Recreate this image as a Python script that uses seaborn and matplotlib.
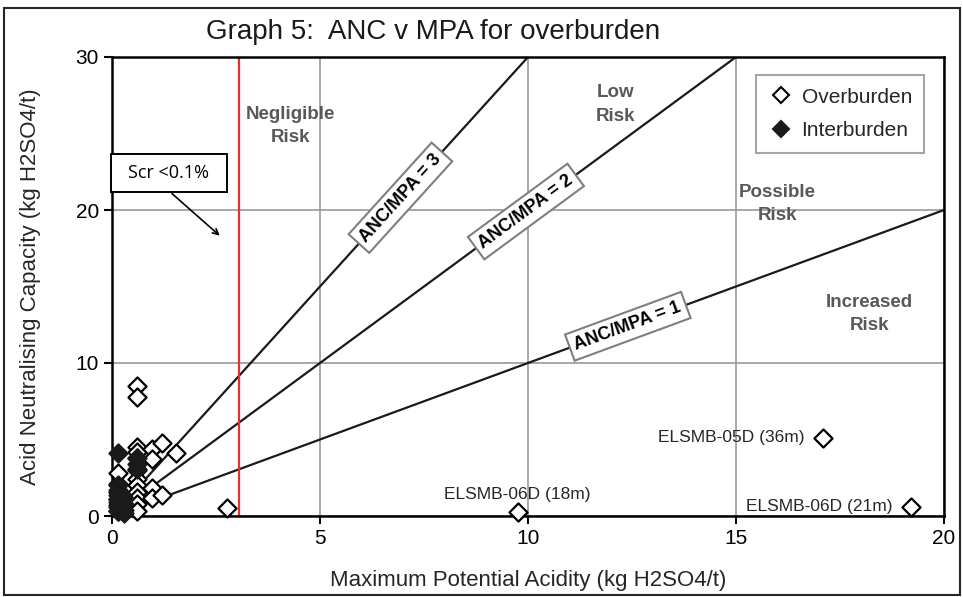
import matplotlib
matplotlib.use("Agg")
import matplotlib.pyplot as plt
import seaborn as sns
import pandas as pd
import numpy as np
from matplotlib.lines import Line2D
from matplotlib.patches import Rectangle

# ---- data ----
ob_x = [0.15, 0.15, 0.15, 0.15, 0.15, 0.15,
        0.6, 0.6, 0.6, 0.6, 0.6, 0.6, 0.6, 0.6, 0.6, 0.6, 0.6, 0.6,
        0.95, 0.95, 0.95, 0.95, 1.2, 1.2, 1.55,
        2.76, 9.75, 17.1, 19.2]
ob_y = [0.3, 0.7, 1.1, 1.6, 2.1, 2.8,
        8.5, 7.8, 4.5, 4.2, 3.8, 3.0, 2.4, 2.0, 1.6, 1.2, 0.8, 0.3,
        4.4, 3.7, 1.8, 1.2, 4.8, 1.4, 4.1,
        0.5, 0.27, 5.1, 0.6]
ib_x = [0.15, 0.15, 0.15, 0.15, 0.15, 0.15, 0.15, 0.15,
        0.3, 0.3, 0.3, 0.3, 0.6, 0.6, 0.6]
ib_y = [4.1, 2.0, 1.7, 1.4, 1.1, 0.9, 0.6, 0.3,
        1.2, 0.8, 0.4, 0.2, 3.8, 3.4, 3.1]

ratios = [1, 2, 3]
ratio_labels = ["ANC/MPA = 1", "ANC/MPA = 2", "ANC/MPA = 3"]
ratio_label_y = [12.4, 19.9, 20.8]
scr_limit = 3.05

region_labels = ["Negligible\nRisk", "Low\nRisk", "Possible\nRisk", "Increased\nRisk"]
region_x = [4.3, 12.1, 16.0, 18.2]
region_y = [25.5, 26.9, 20.4, 13.2]

sample_names = ["ELSMB-06D (18m)", "ELSMB-05D (36m)", "ELSMB-06D (21m)"]
sample_x = [9.75, 17.1, 19.2]
sample_y = [0.27, 5.1, 0.6]

xticks = [0, 5, 10, 15, 20]
yticks = [0, 10, 20, 30]

# ---- figure ----
sns.set_style("white")
plt.rcParams['font.family'] = ['Liberation Sans', 'DejaVu Sans']

W, H = 963, 597
fig = plt.figure(figsize=(W / 100, H / 100), dpi=100)
L, R, T, B = 112, 944, 57, 516
ax = fig.add_axes([L / W, 1 - B / H, (R - L) / W, (B - T) / H])

ax.set_xlim(0, 20)
ax.set_ylim(0, 30)
ax.set_xticks(xticks)
ax.set_yticks(yticks)
ax.tick_params(axis='both', direction='out', length=6, width=1.5, labelsize=15,
               colors='black', bottom=True, left=True)
ax.grid(True, color='#a0a0a0', linewidth=1.3, zorder=0)
ax.set_axisbelow(True)
for s in ax.spines.values():
    s.set_color('black')
    s.set_linewidth(1.8)

# ratio lines
for k in ratios:
    xs = np.array([0, 20])
    ax.plot(xs, k * xs, color='#1a1a1a', linewidth=1.6, zorder=2)

ax.axvline(scr_limit, color='#e8302a', linewidth=1.6, zorder=2)

ob = pd.DataFrame({"x": ob_x, "y": ob_y})
ib = pd.DataFrame({"x": ib_x, "y": ib_y})
sns.scatterplot(data=ob, x="x", y="y", marker='D', s=85, color='white',
                edgecolor='black', linewidth=1.6, ax=ax, zorder=4, clip_on=False)
sns.scatterplot(data=ib, x="x", y="y", marker='D', s=85, color='#1a1a1a',
                edgecolor='#1a1a1a', linewidth=1.6, ax=ax, zorder=5, clip_on=False)

ax.set_xlabel("Maximum Potential Acidity (kg H2SO4/t)", fontsize=16, color='#262626')
ax.set_ylabel("Acid Neutralising Capacity (kg H2SO4/t)", fontsize=16, color='#262626')
ax.xaxis.set_label_coords(0.5, -0.118)
ax.yaxis.set_label_coords(-0.085, 0.5)

# ratio labels, rotated along lines
ax_w = R - L
ax_h = B - T
for k, lab, yy in zip(ratios, ratio_labels, ratio_label_y):
    ang = np.degrees(np.arctan(k * (ax_h / 30) / (ax_w / 20)))
    ax.text(yy / k, yy, lab, rotation=ang, rotation_mode='anchor',
            ha='center', va='center', fontsize=13, fontweight='bold', color='black',
            bbox=dict(boxstyle='square,pad=0.3', facecolor='white',
                      edgecolor='#7f7f7f', linewidth=1.5), zorder=6)

for lab, xx, yy in zip(region_labels, region_x, region_y):
    ax.text(xx, yy, lab, ha='center', va='center', fontsize=13.5,
            fontweight='bold', color='#595959', linespacing=1.5, zorder=6)

# sample labels
ax.text(sample_x[0], sample_y[0] + 1.15, sample_names[0], ha='center', va='center',
        fontsize=12.5, color='#262626', zorder=6)
ax.text(sample_x[1] - 0.45, sample_y[1], sample_names[1], ha='right', va='center',
        fontsize=12.5, color='#262626', zorder=6)
ax.text(sample_x[2] - 0.45, sample_y[2], sample_names[2], ha='right', va='center',
        fontsize=12.5, color='#262626', zorder=6)

# Scr annotation
ax.annotate("", xy=(2.64, 18.2), xytext=(1.39, 21.2),
            arrowprops=dict(arrowstyle='->', color='black', lw=1.2), zorder=6)
ax.add_patch(Rectangle((-0.02, 21.2), 2.78, 2.45, facecolor='white', edgecolor='black',
                       linewidth=1.4, zorder=7, clip_on=False))
ax.text(1.37, 22.42, "Scr <0.1%", ha='center', va='center', fontsize=13,
        family=['Open Sans', 'DejaVu Sans'], color='black', zorder=8, clip_on=False)

# legend
handles = [Line2D([], [], marker='D', linestyle='none', markersize=8.5,
                  markerfacecolor='white', markeredgecolor='black', markeredgewidth=1.5),
           Line2D([], [], marker='D', linestyle='none', markersize=8.5,
                  markerfacecolor='#1a1a1a', markeredgecolor='#1a1a1a', markeredgewidth=1.5)]
leg = ax.legend(handles, ["Overburden", "Interburden"], loc='upper right',
                bbox_to_anchor=(0.989, 0.983), fontsize=15, frameon=True,
                fancybox=False, edgecolor='#a6a6a6', framealpha=1,
                handletextpad=0.4, borderpad=0.6, labelspacing=0.7, handlelength=1.2)
leg.get_frame().set_linewidth(1.5)
leg.set_zorder(8)

fig.text(433 / W, 1 - 32 / H, "Graph 5:  ANC v MPA for overburden", ha='center',
         va='center', fontsize=20, color='#1a1a1a')

fig.patches.append(Rectangle((4 / W, 2 / H), (960 - 4) / W, (595 - 8) / H,
                             transform=fig.transFigure, fill=False,
                             edgecolor='#262626', linewidth=1.5))

fig.savefig("out.png", dpi=100)
